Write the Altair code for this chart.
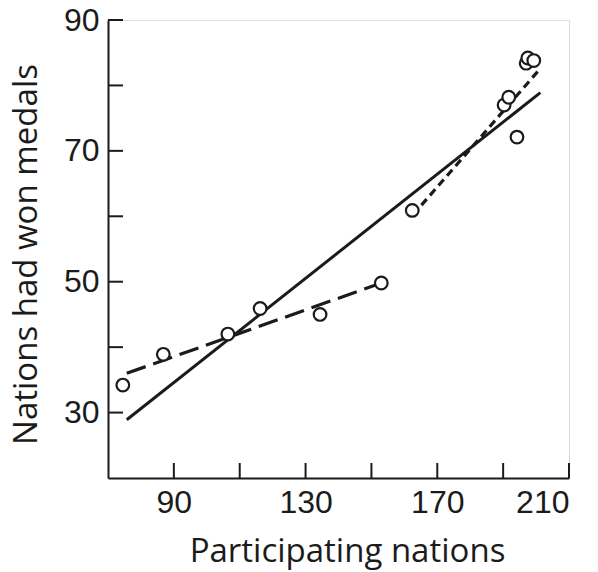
import altair as alt
import pandas as pd

# Observed points
px = [74.5, 86.8, 106.4, 116.2, 134.4, 153.0, 162.4, 190.3, 191.7, 194.2, 197.0, 197.5, 199.3]
py = [34.2, 38.9, 42.0, 45.9, 45.0, 49.8, 60.9, 77.0, 78.2, 72.1, 83.4, 84.2, 83.8]

# Fitted lines (endpoints)
solid_x = [75.7, 201.3]
solid_y = [28.9, 78.9]
dash_x = [75.7, 153.0]
dash_y = [36.0, 49.8]
dot_x = [162.6, 200.8]
dot_y = [60.2, 82.3]

# Axis ticks
x_ticks = [90, 110, 130, 150, 170, 190, 210]
x_labels = [90, 130, 170, 210]
y_ticks = [30, 40, 50, 60, 70, 80, 90]
y_labels = [30, 50, 70, 90]

XDOM = [70, 210]
YDOM = [20, 90]
INK = "#1b1b1b"

pts = pd.DataFrame({"x": px, "y": py})
solid = pd.DataFrame({"x": solid_x, "y": solid_y})
dash = pd.DataFrame({"x": dash_x, "y": dash_y})
dot = pd.DataFrame({"x": dot_x, "y": dot_y})
xt = pd.DataFrame({"v": x_ticks})
yt = pd.DataFrame({"v": y_ticks})

xs = alt.Scale(domain=XDOM, nice=False, zero=False)
ys = alt.Scale(domain=YDOM, nice=False, zero=False)

xaxis = alt.Axis(values=x_labels, ticks=False, grid=False, domainColor=INK, domainWidth=2,
                 labelFont="Liberation Sans", labelFontSize=32, labelColor=INK, labelPadding=9,
                 title="Participating nations", titleFont="Open Sans", titleFontSize=33,
                 titleFontWeight="normal", titleColor=INK, titlePadding=17, titleX=239)
yaxis = alt.Axis(values=y_labels, ticks=False, grid=False, domainColor=INK, domainWidth=2,
                 labelFont="Liberation Sans", labelFontSize=32, labelColor=INK, labelPadding=9,
                 title="Nations had won medals", titleFont="Open Sans", titleFontSize=33,
                 titleFontWeight="normal", titleColor=INK, titlePadding=20, titleY=234)

base_pts = alt.Chart(pts).mark_point(shape="circle", size=160, filled=False, fill="white",
                                     fillOpacity=1, stroke=INK, strokeWidth=2.2, opacity=1).encode(
    x=alt.X("x:Q", scale=xs, axis=xaxis),
    y=alt.Y("y:Q", scale=ys, axis=yaxis),
)

l_solid = alt.Chart(solid).mark_line(color=INK, strokeWidth=3).encode(
    x=alt.X("x:Q", scale=xs), y=alt.Y("y:Q", scale=ys))
l_dash = alt.Chart(dash).mark_line(color=INK, strokeWidth=3.2, strokeDash=[20, 8]).encode(
    x=alt.X("x:Q", scale=xs), y=alt.Y("y:Q", scale=ys))
l_dot = alt.Chart(dot).mark_line(color=INK, strokeWidth=3.2, strokeDash=[8, 5]).encode(
    x=alt.X("x:Q", scale=xs), y=alt.Y("y:Q", scale=ys))

tx = alt.Chart(xt).mark_rule(color=INK, strokeWidth=2).encode(
    x=alt.X("v:Q", scale=xs), y=alt.value(458), y2=alt.value(443))
ty = alt.Chart(yt).mark_rule(color=INK, strokeWidth=2).encode(
    y=alt.Y("v:Q", scale=ys), x=alt.value(0), x2=alt.value(15))

chart = alt.layer(tx, ty, l_solid, l_dash, l_dot, base_pts).properties(
    width=461, height=458,
    autosize=alt.AutoSizeParams(type="none"),
    padding={"left": 100, "top": 12, "right": 21, "bottom": 94},
).configure_view(stroke=None).configure(background="white")

chart.save("out.html", embed_options={"renderer": "svg", "actions": False})
